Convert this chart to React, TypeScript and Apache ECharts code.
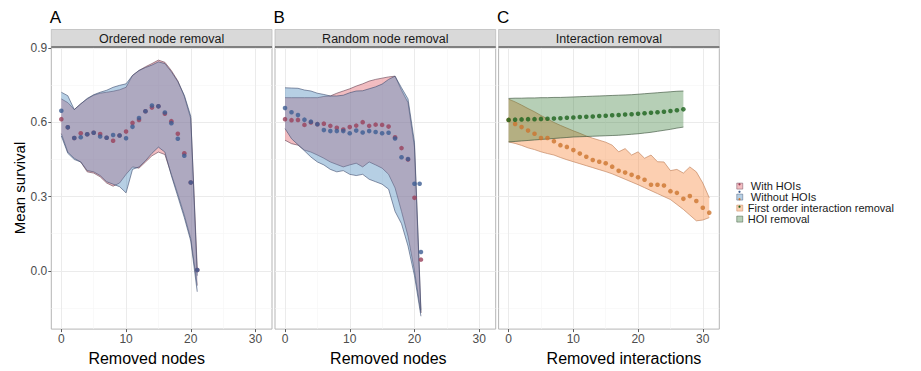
import React, { useEffect, useRef } from "react";
import * as echarts from "echarts";

// ---- data ----------------------------------------------------------------
const nodeSteps = [0, 1, 2, 3, 4, 5, 6, 7, 8, 9, 10, 11, 12, 13, 14, 15, 16, 17, 18, 19, 20, 21];

// A: ordered node removal
const ordWithMean = [0.613, 0.58, 0.537, 0.556, 0.552, 0.558, 0.553, 0.538, 0.526, 0.547, 0.563, 0.598, 0.61, 0.645, 0.66, 0.665, 0.635, 0.605, 0.554, 0.475, 0.357, 0.003];
const ordWithoutMean = [0.647, 0.58, 0.537, 0.54, 0.552, 0.558, 0.543, 0.538, 0.549, 0.547, 0.536, 0.582, 0.618, 0.645, 0.668, 0.665, 0.64, 0.597, 0.534, 0.465, 0.357, 0.003];
const ordWithUpper = [0.695, 0.68, 0.652, 0.675, 0.695, 0.71, 0.718, 0.722, 0.726, 0.732, 0.742, 0.79, 0.81, 0.825, 0.838, 0.852, 0.843, 0.81, 0.768, 0.705, 0.615, 0.01];
const ordWithLower = [0.555, 0.48, 0.455, 0.44, 0.4, 0.395, 0.38, 0.355, 0.342, 0.355, 0.39, 0.42, 0.415, 0.44, 0.465, 0.48, 0.47, 0.39, 0.31, 0.225, 0.13, -0.06];
const ordWithoutUpper = [0.722, 0.708, 0.652, 0.675, 0.697, 0.712, 0.722, 0.73, 0.742, 0.75, 0.756, 0.79, 0.81, 0.822, 0.832, 0.845, 0.838, 0.805, 0.765, 0.71, 0.625, -0.02];
const ordWithoutLower = [0.545, 0.475, 0.45, 0.44, 0.405, 0.4, 0.385, 0.36, 0.35, 0.34, 0.315, 0.41, 0.42, 0.445, 0.475, 0.5, 0.48, 0.385, 0.3, 0.215, 0.12, -0.085];

// B: random node removal
const rndWithMean = [0.613, 0.609, 0.61, 0.59, 0.6, 0.593, 0.595, 0.586, 0.578, 0.571, 0.581, 0.587, 0.601, 0.586, 0.591, 0.59, 0.583, 0.54, 0.496, 0.45, 0.295, 0.045];
const rndWithoutX = [0, 1, 2, 3, 4, 5, 6, 7, 8, 9, 10, 11, 12, 13, 14, 15, 16, 17, 18, 19, 20, 20.8, 21];
const rndWithoutMean = [0.658, 0.641, 0.63, 0.611, 0.603, 0.593, 0.569, 0.565, 0.565, 0.565, 0.556, 0.567, 0.559, 0.565, 0.561, 0.556, 0.558, 0.535, 0.459, 0.452, 0.352, 0.352, 0.076];
const rndWithUpper = [0.7, 0.7, 0.7, 0.7, 0.7, 0.7, 0.705, 0.707, 0.718, 0.727, 0.736, 0.747, 0.756, 0.767, 0.774, 0.779, 0.784, 0.787, 0.73, 0.68, 0.5, -0.17];
const rndWithLower = [0.528, 0.514, 0.508, 0.488, 0.48, 0.468, 0.455, 0.44, 0.43, 0.42, 0.428, 0.435, 0.42, 0.44, 0.428, 0.415, 0.39, 0.335, 0.24, 0.14, 0.0, -0.17];
const rndWithoutUpper = [0.74, 0.739, 0.738, 0.731, 0.727, 0.718, 0.713, 0.707, 0.707, 0.71, 0.72, 0.727, 0.728, 0.736, 0.744, 0.755, 0.774, 0.787, 0.74, 0.695, 0.52, -0.16];
const rndWithoutLower = [0.575, 0.534, 0.51, 0.485, 0.46, 0.44, 0.428, 0.41, 0.4, 0.405, 0.39, 0.385, 0.39, 0.37, 0.36, 0.35, 0.33, 0.24, 0.19, 0.1, -0.02, -0.184];

// C: interaction removal
const hoiSteps = [0, 1, 2, 3, 4, 5, 6, 7, 8, 9, 10, 11, 12, 13, 14, 15, 16, 17, 18, 19, 20, 21, 22, 23, 24, 25, 26, 27];
const hoiMean = [0.61, 0.611, 0.612, 0.613, 0.613, 0.614, 0.615, 0.616, 0.617, 0.619, 0.62, 0.622, 0.623, 0.624, 0.626, 0.627, 0.629, 0.63, 0.632, 0.633, 0.635, 0.637, 0.639, 0.641, 0.643, 0.646, 0.649, 0.653];
const hoiUpper = [0.697, 0.698, 0.698, 0.699, 0.699, 0.7, 0.7, 0.701, 0.701, 0.702, 0.703, 0.704, 0.705, 0.706, 0.707, 0.708, 0.709, 0.71, 0.711, 0.712, 0.714, 0.716, 0.718, 0.72, 0.722, 0.724, 0.726, 0.727];
const hoiLower = [0.521, 0.523, 0.525, 0.527, 0.529, 0.531, 0.533, 0.535, 0.537, 0.539, 0.541, 0.542, 0.543, 0.544, 0.545, 0.546, 0.547, 0.548, 0.55, 0.552, 0.554, 0.557, 0.56, 0.564, 0.568, 0.572, 0.577, 0.581];

const firstSteps = [0, 1, 2, 3, 4, 5, 6, 7, 8, 9, 10, 11, 12, 13, 14, 15, 16, 17, 18, 19, 20, 21, 22, 23, 24, 25, 26, 27, 28, 29, 30, 31];
const firstMean = [0.61, 0.594, 0.581, 0.567, 0.554, 0.537, 0.537, 0.524, 0.508, 0.501, 0.488, 0.474, 0.461, 0.448, 0.441, 0.435, 0.421, 0.404, 0.397, 0.388, 0.378, 0.368, 0.348, 0.348, 0.345, 0.322, 0.315, 0.291, 0.302, 0.282, 0.255, 0.235];
const firstUpper = [0.694, 0.683, 0.67, 0.656, 0.643, 0.628, 0.614, 0.6, 0.588, 0.577, 0.566, 0.556, 0.545, 0.536, 0.528, 0.52, 0.508, 0.481, 0.494, 0.468, 0.481, 0.455, 0.468, 0.441, 0.44, 0.405, 0.41, 0.395, 0.42, 0.4, 0.355, 0.295];
const firstLower = [0.521, 0.515, 0.507, 0.497, 0.49, 0.481, 0.474, 0.468, 0.458, 0.449, 0.441, 0.433, 0.425, 0.417, 0.409, 0.401, 0.392, 0.381, 0.37, 0.359, 0.348, 0.336, 0.324, 0.312, 0.3, 0.288, 0.268, 0.248, 0.225, 0.202, 0.205, 0.215];

const panelTitles = ["Ordered node removal", "Random node removal", "Interaction removal"];
const panelTags = ["A", "B", "C"];
const xTitles = ["Removed nodes", "Removed nodes", "Removed interactions"];
const xMajor = [0, 10, 20, 30];
const xMinor = [5, 15, 25];
const yMajor = [0, 0.3, 0.6, 0.9];
const yMinor = [-0.15, 0.15, 0.45, 0.75];
const legendNames = [" With HOIs", " Without HOIs", "First order interaction removal", "HOI removal"];

// ---- styling ---------------------------------------------------------------
const FONT = "'Liberation Sans', Arial, Helvetica, sans-serif";
const X_RANGE = [-1.55, 32.55];
const Y_RANGE = [-0.236, 0.905];
const PANEL_LEFT = [51.3, 275, 498.6];
const PANEL_W = 220.7;
const PANEL_TOP = 47;
const PANEL_H = 286.3;
// padding [top, right, bottom, left] that nudges each x-axis title sideways
const X_TITLE_PAD = [
  [0, 30, 0, 0],
  [0, 0, 0, 6],
  [0, 0, 0, 30],
];

const C = {
  withFill: "rgba(222, 90, 100, 0.40)",
  withEdge: "rgba(95, 60, 80, 0.85)",
  withPt: "#98405a",
  withoutFill: "rgba(80, 140, 190, 0.42)",
  withoutEdge: "rgba(60, 75, 110, 0.85)",
  withoutPt: "#3c5c92",
  firstFill: "rgba(248, 140, 70, 0.42)",
  firstEdge: "rgba(190, 125, 85, 0.9)",
  firstPt: "#cc742e",
  hoiFill: "rgba(40, 115, 40, 0.34)",
  hoiEdge: "rgba(55, 80, 55, 0.9)",
  hoiPt: "#1b621b",
};

// A confidence band: one polygon between lower and upper bounds, with both edges outlined.
function ribbon(name: string, g: number, xs: number[], lo: number[], up: number[], fill: string, edge: string) {
  const rows = xs.map((x, i) => [x, lo[i], up[i]]);
  return {
    type: "custom",
    name,
    xAxisIndex: g * 2,
    yAxisIndex: g * 2,
    silent: true,
    z: 2,
    data: rows,
    encode: { x: 0, y: [1, 2] },
    renderItem: (params: any, api: any) => {
      if (params.dataIndex !== 0) return null;
      const upper = rows.map((r) => api.coord([r[0], r[2]]));
      const lower = rows.map((r) => api.coord([r[0], r[1]]));
      return {
        type: "group",
        children: [
          {
            type: "polygon",
            shape: { points: upper.concat(lower.slice().reverse()) },
            style: { fill, stroke: "none" },
          },
          { type: "polyline", shape: { points: upper }, style: { stroke: edge, lineWidth: 0.7, fill: "none" } },
          { type: "polyline", shape: { points: lower }, style: { stroke: edge, lineWidth: 0.7, fill: "none" } },
        ],
      };
    },
  };
}

function dots(name: string, g: number, xs: number[], ys: number[], color: string) {
  return {
    type: "scatter",
    name,
    xAxisIndex: g * 2,
    yAxisIndex: g * 2,
    data: xs.map((x, i) => [x, ys[i]]),
    symbol: "circle",
    symbolSize: 4.6,
    itemStyle: { color },
    silent: true,
    z: 3,
  };
}

export default function App() {
  const ref = useRef<HTMLDivElement>(null);

  useEffect(() => {
    if (!ref.current) return;
    const chart = echarts.init(ref.current, null, { renderer: "svg" });

    const grids = PANEL_LEFT.map((left) => ({
      left,
      top: PANEL_TOP,
      width: PANEL_W,
      height: PANEL_H,
      show: true,
      backgroundColor: "#ffffff",
      borderColor: "#b5b5b5",
      borderWidth: 1,
      containLabel: false,
    }));

    const xAxes: any[] = [];
    const yAxes: any[] = [];
    PANEL_LEFT.forEach((_, g) => {
      xAxes.push({
        type: "value",
        gridIndex: g,
        min: X_RANGE[0],
        max: X_RANGE[1],
        position: "bottom",
        axisLine: { show: false, onZero: false },
        axisTick: { show: true, length: 3, lineStyle: { color: "#333", width: 0.8 }, customValues: xMajor },
        axisLabel: { customValues: xMajor, color: "#4d4d4d", fontSize: 12, margin: 4, fontFamily: FONT },
        splitLine: { show: true, lineStyle: { color: "#ebebeb", width: 1 } },
        name: xTitles[g],
        nameLocation: "middle",
        nameGap: 15,
        nameTextStyle: { fontSize: 16, color: "#000", fontFamily: FONT, padding: X_TITLE_PAD[g] },
      });
      xAxes.push({
        type: "value",
        gridIndex: g,
        min: X_RANGE[0],
        max: X_RANGE[1],
        position: "bottom",
        axisLine: { show: false, onZero: false },
        axisTick: { show: false, customValues: xMinor },
        axisLabel: { show: false, customValues: xMinor },
        splitLine: { show: true, lineStyle: { color: "#f5f5f5", width: 0.6 } },
      });
      yAxes.push({
        type: "value",
        gridIndex: g,
        min: Y_RANGE[0],
        max: Y_RANGE[1],
        position: "left",
        axisLine: { show: false, onZero: false },
        axisTick: { show: g === 0, length: 3, lineStyle: { color: "#333", width: 0.8 }, customValues: yMajor },
        axisLabel: {
          show: g === 0,
          customValues: yMajor,
          formatter: (v: number) => v.toFixed(1),
          color: "#4d4d4d",
          fontSize: 12,
          margin: 4,
          fontFamily: FONT,
        },
        splitLine: { show: true, lineStyle: { color: "#ebebeb", width: 1 } },
        name: g === 0 ? "Mean survival" : "",
        nameLocation: "middle",
        nameGap: 24,
        nameTextStyle: { fontSize: 15, color: "#000", fontFamily: FONT },
      });
      yAxes.push({
        type: "value",
        gridIndex: g,
        min: Y_RANGE[0],
        max: Y_RANGE[1],
        position: "left",
        axisLine: { show: false, onZero: false },
        axisTick: { show: false, customValues: yMinor },
        axisLabel: { show: false, customValues: yMinor },
        splitLine: { show: true, lineStyle: { color: "#f5f5f5", width: 0.6 } },
      });
    });

    const [nWith, nWithout, nFirst, nHoi] = legendNames;
    const series: any[] = [
      ribbon(nWith, 0, nodeSteps, ordWithLower, ordWithUpper, C.withFill, C.withEdge),
      ribbon(nWithout, 0, nodeSteps, ordWithoutLower, ordWithoutUpper, C.withoutFill, C.withoutEdge),
      dots(nWith, 0, nodeSteps, ordWithMean, C.withPt),
      dots(nWithout, 0, nodeSteps, ordWithoutMean, C.withoutPt),

      ribbon(nWith, 1, nodeSteps, rndWithLower, rndWithUpper, C.withFill, C.withEdge),
      ribbon(nWithout, 1, nodeSteps, rndWithoutLower, rndWithoutUpper, C.withoutFill, C.withoutEdge),
      dots(nWith, 1, nodeSteps, rndWithMean, C.withPt),
      dots(nWithout, 1, rndWithoutX, rndWithoutMean, C.withoutPt),

      ribbon(nFirst, 2, firstSteps, firstLower, firstUpper, C.firstFill, C.firstEdge),
      ribbon(nHoi, 2, hoiSteps, hoiLower, hoiUpper, C.hoiFill, C.hoiEdge),
      dots(nFirst, 2, firstSteps, firstMean, C.firstPt),
      dots(nHoi, 2, hoiSteps, hoiMean, C.hoiPt),
    ];

    const keyFills = [C.withFill, C.withoutFill, C.firstFill, C.hoiFill];
    const keyEdges = [C.withEdge, C.withoutEdge, C.firstEdge, C.hoiEdge];
    const keyPts = [C.withPt, C.withoutPt, C.firstPt, C.hoiPt];
    const LEG_LEFT = 736.5;
    const LEG_TOP = 180.6;
    const LEG_STEP = 7.45;

    const graphics: any[] = [];
    PANEL_LEFT.forEach((left, g) => {
      graphics.push({
        type: "rect",
        shape: { x: left, y: 29.5, width: PANEL_W, height: PANEL_TOP - 29.5 },
        style: { fill: "#d9d9d9", stroke: "#bdbdbd", lineWidth: 0.8 },
        z: 10,
      });
      graphics.push({
        type: "line",
        shape: { x1: left, y1: PANEL_TOP, x2: left + PANEL_W, y2: PANEL_TOP },
        style: { stroke: "#333333", lineWidth: 1 },
        z: 11,
      });
      graphics.push({
        type: "text",
        x: left + PANEL_W / 2,
        y: 38.5,
        style: {
          text: panelTitles[g],
          fill: "#1a1a1a",
          font: `12.5px ${FONT}`,
          textAlign: "center",
          textVerticalAlign: "middle",
        },
        z: 12,
      });
      graphics.push({
        type: "text",
        x: left - 1.5,
        y: 17.5,
        style: {
          text: panelTags[g],
          fill: "#000",
          font: `17px ${FONT}`,
          textAlign: "left",
          textVerticalAlign: "middle",
        },
        z: 12,
      });
    });
    keyPts.forEach((c, i) => {
      graphics.push({
        type: "circle",
        shape: { cx: LEG_LEFT + 3, cy: LEG_TOP + LEG_STEP * i + LEG_STEP / 2, r: 1.1 },
        style: { fill: c },
        z: 20,
      });
    });

    chart.setOption({
      animation: false,
      backgroundColor: "#ffffff",
      textStyle: { fontFamily: FONT },
      grid: grids,
      xAxis: xAxes,
      yAxis: yAxes,
      series,
      legend: {
        orient: "vertical",
        left: LEG_LEFT,
        top: LEG_TOP,
        padding: 0,
        itemGap: 0,
        itemWidth: 6,
        itemHeight: 6,
        selectedMode: false,
        textStyle: { fontSize: 11, lineHeight: LEG_STEP, color: "#1a1a1a", fontFamily: FONT },
        data: legendNames.map((name, i) => ({
          name,
          icon: "rect",
          itemStyle: { color: keyFills[i], borderColor: keyEdges[i], borderWidth: 0.5 },
        })),
      },
      graphic: graphics,
    });

    return () => chart.dispose();
  }, []);

  return (
    <div
      ref={ref}
      style={{ position: "absolute", left: 0, top: 0, width: 921, height: 371, background: "#fff" }}
    />
  );
}
